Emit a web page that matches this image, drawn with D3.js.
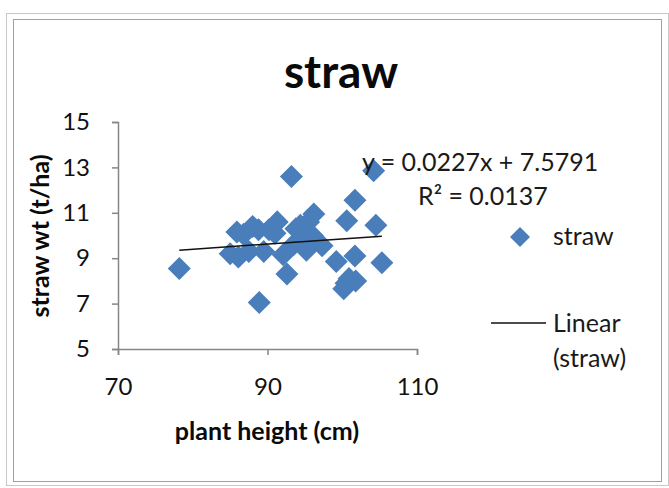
<!DOCTYPE html>
<html>
<head>
<meta charset="utf-8">
<script src="https://cdn.jsdelivr.net/npm/d3@7"></script>
<style>
  body { margin: 0; background: #fff; }
  svg { display: block; font-family: Lato, "Open Sans", sans-serif; }
</style>
</head>
<body>
<svg id="chart"></svg>
<script>
// plant height (cm) vs straw wt (t/ha)
var heights = [78.2, 88.9, 93.2, 104.2, 101.7, 100.6, 104.5, 105.3, 101.7, 99.2,
               100.2, 100.9, 101.8, 100.5, 92.6, 92.1, 96.2, 94.4, 97.3, 95.2,
               91.3, 90.2, 88.0, 85.9, 85.0, 86.1, 87.5, 89.5, 88.8, 93.8,
               95.5, 96.0, 86.8, 91.0, 94.8, 93.5];
var strawWt = [8.55, 7.05, 12.6, 12.85, 11.55, 10.65, 10.45, 8.8, 9.1, 8.85,
               7.65, 8.1, 8.0, 7.9, 8.3, 9.15, 10.95, 10.45, 9.55, 9.35,
               10.6, 10.25, 10.4, 10.15, 9.2, 9.05, 9.3, 9.3, 10.25, 10.3,
               10.6, 10.0, 10.05, 10.1, 9.9, 9.6];
var xTicks = [70, 90, 110];
var yTicks = [5, 7, 9, 11, 13, 15];
var slope = 0.0227, intercept = 7.5791;

var W = 669, H = 488;
var svg = d3.select("#chart").attr("width", W).attr("height", H);

// outer frames
svg.append("rect").attr("x", 6.5).attr("y", 13.5).attr("width", 662).attr("height", 472)
  .attr("fill", "none").attr("stroke", "#c8c8c8");
svg.append("rect").attr("x", 13.5).attr("y", 19.5).attr("width", 648).attr("height", 462)
  .attr("fill", "none").attr("stroke", "#a0a0a0");

var x = d3.scaleLinear().domain([70, 110]).range([118, 417]);
var y = d3.scaleLinear().domain([5, 15]).range([349, 122]);

svg.append("text").attr("x", 341).attr("y", 88).attr("text-anchor", "middle")
  .style("font-size", "46px").style("font-weight", "bold").attr("fill", "#0a0a0a").text("straw");

var gx = svg.append("g").attr("transform", "translate(0," + y(5) + ")")
  .call(d3.axisBottom(x).tickValues(xTicks).tickSize(6).tickPadding(23));
var gy = svg.append("g").attr("transform", "translate(" + x(70) + ",0)")
  .call(d3.axisLeft(y).tickValues(yTicks).tickSize(6).tickPadding(22));
[gx, gy].forEach(function(g) {
  g.select(".domain").attr("stroke", "#868686").attr("stroke-width", 1.5);
  g.selectAll(".tick line").attr("stroke", "#868686").attr("stroke-width", 1.5);
  g.selectAll("text").attr("fill", "#111").style("font-size", "24px")
    .style("font-family", "Lato, sans-serif");
});

svg.append("text").attr("x", 267).attr("y", 440).attr("text-anchor", "middle")
  .style("font-size", "25px").style("font-weight", "bold").attr("fill", "#0a0a0a").text("plant height  (cm)");
svg.append("text").attr("transform", "translate(49,236) rotate(-90)").attr("text-anchor", "middle")
  .style("font-size", "25px").style("font-weight", "bold").attr("fill", "#0a0a0a").text("straw wt  (t/ha)");

var blue = "#4a7ebb";
var diamond = d3.symbol().type(d3.symbolSquare).size(265);
var pts = heights.map(function(h, i) { return [h, strawWt[i]]; });
svg.append("g").selectAll("path").data(pts).join("path")
  .attr("d", diamond)
  .attr("fill", blue)
  .attr("transform", function(d) { return "translate(" + x(d[0]) + "," + y(d[1]) + ") rotate(45)"; });

// trendline over the data range
var xr = d3.extent(heights);
svg.append("line")
  .attr("x1", x(xr[0])).attr("y1", y(slope * xr[0] + intercept))
  .attr("x2", x(xr[1])).attr("y2", y(slope * xr[1] + intercept))
  .attr("stroke", "#111").attr("stroke-width", 1.5);

svg.append("text").attr("x", 362).attr("y", 171).style("font-size", "25px").attr("fill", "#1a1a1a")
  .text("y = 0.0227x + 7.5791");
svg.append("text").attr("x", 418).attr("y", 205).style("font-size", "25px").attr("fill", "#1a1a1a")
  .text("R² = 0.0137");

// legend
svg.append("path").attr("d", d3.symbol().type(d3.symbolSquare).size(200))
  .attr("fill", blue).attr("transform", "translate(520,237) rotate(45)");
svg.append("text").attr("x", 553).attr("y", 245).style("font-size", "25px").attr("fill", "#1a1a1a").text("straw");
svg.append("line").attr("x1", 491).attr("x2", 546).attr("y1", 323).attr("y2", 323)
  .attr("stroke", "#111").attr("stroke-width", 1.5);
svg.append("text").attr("x", 553).attr("y", 332).style("font-size", "25px").attr("fill", "#1a1a1a").text("Linear");
svg.append("text").attr("x", 553).attr("y", 367).style("font-size", "25px").attr("fill", "#1a1a1a").text("(straw)");
</script>
</body>
</html>
